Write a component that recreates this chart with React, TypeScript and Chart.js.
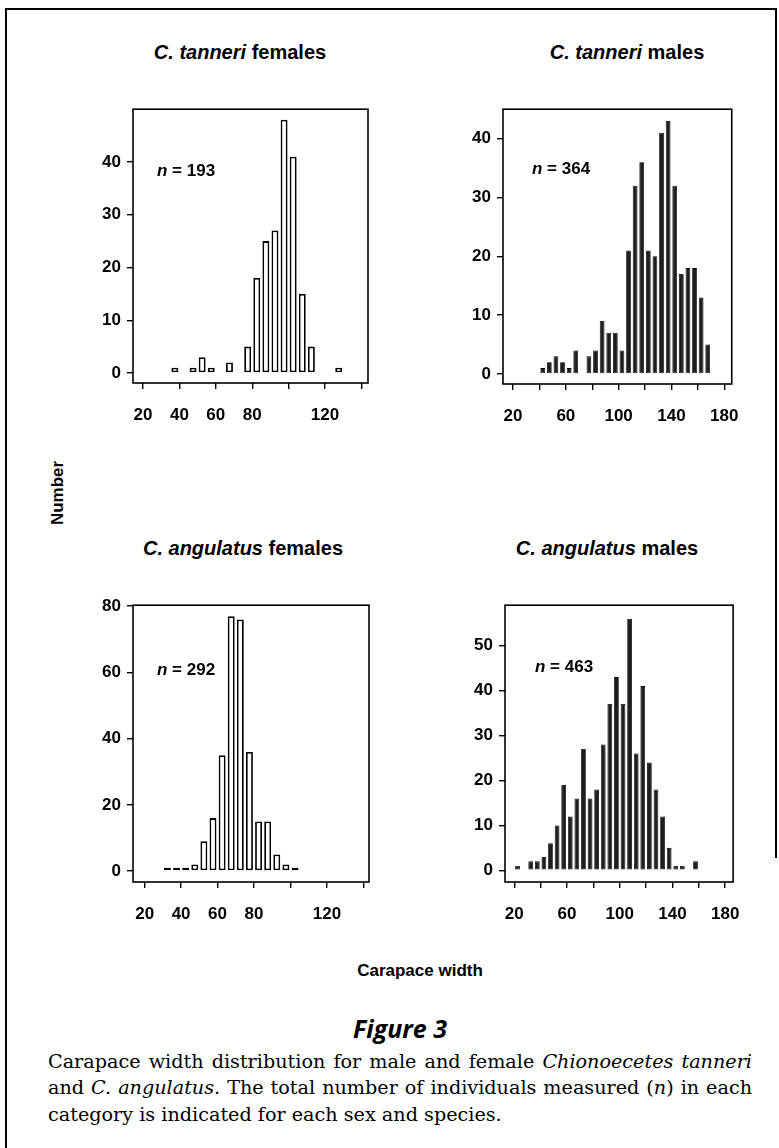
import React, { useEffect, useRef } from "react";
import { Chart, registerables } from "chart.js";

Chart.register(...registerables);

// ---------------- DATA ----------------
// bin centres (carapace width, mm) and counts
const tanneriFemaleBins = [37.5, 47.5, 52.5, 57.5, 67.5, 77.5, 82.5, 87.5, 92.5, 97.5, 102.5, 107.5, 112.5, 127.5];
const tanneriFemaleCounts = [1, 1, 3, 1, 2, 5, 18, 25, 27, 48, 41, 15, 5, 1];

const tanneriMaleBins = [42.5, 47.5, 52.5, 57.5, 62.5, 67.5, 77.5, 82.5, 87.5, 92.5, 97.5, 102.5, 107.5, 112.5, 117.5, 122.5, 127.5, 132.5, 137.5, 142.5, 147.5, 152.5, 157.5, 162.5, 167.5];
const tanneriMaleCounts = [1, 2, 3, 2, 1, 4, 3, 4, 9, 7, 7, 4, 21, 32, 36, 21, 20, 41, 43, 32, 17, 18, 18, 13, 5];

const angulatusFemaleBins = [32.5, 37.5, 42.5, 47.5, 52.5, 57.5, 62.5, 67.5, 72.5, 77.5, 82.5, 87.5, 92.5, 97.5, 102.5];
const angulatusFemaleCounts = [1, 1, 1, 2, 9, 16, 35, 77, 76, 36, 15, 15, 5, 2, 1];

const angulatusMaleBins = [22.5, 32.5, 37.5, 42.5, 47.5, 52.5, 57.5, 62.5, 67.5, 72.5, 77.5, 82.5, 87.5, 92.5, 97.5, 102.5, 107.5, 112.5, 117.5, 122.5, 127.5, 132.5, 137.5, 142.5, 147.5, 157.5];
const angulatusMaleCounts = [1, 2, 2, 3, 6, 10, 19, 12, 16, 27, 16, 18, 28, 37, 43, 37, 56, 26, 41, 24, 18, 12, 5, 1, 1, 2];

// tick values and which ones carry labels
const femaleXTicks = [20, 40, 60, 80, 100, 120, 140];
const femaleXLabels = [20, 40, 60, 80, 120];
const maleXTicks = [20, 40, 60, 80, 100, 120, 140, 160, 180];
const maleXLabels = [20, 60, 100, 140, 180];
const yTicks40 = [0, 10, 20, 30, 40];
const yTicks80 = [0, 20, 40, 60, 80];
const yTicks50 = [0, 10, 20, 30, 40, 50];

const sampleSizes = [193, 364, 292, 463];

// ---------------- STYLE ----------------
const SANS = '"Liberation Sans", Arial, Helvetica, sans-serif';
const AXIS_W = 50;
const AXIS_H = 45;
const PAD_T = 12;
const PAD_R = 18;

const framePlugin = {
  id: "frameBox",
  afterDatasetsDraw(chart: any) {
    const { ctx, chartArea } = chart;
    ctx.save();
    ctx.strokeStyle = "#000";
    ctx.lineWidth = 1.6;
    ctx.strokeRect(chartArea.left, chartArea.top, chartArea.right - chartArea.left, chartArea.bottom - chartArea.top);
    ctx.restore();
  },
};

type PanelProps = {
  bins: number[];
  counts: number[];
  xMin: number;
  xMax: number;
  yMin: number;
  yMax: number;
  xTicks: number[];
  xLabels: number[];
  yTicks: number[];
  filled: boolean;
  frame: { l: number; t: number; w: number; h: number };
};

function HistPanel(p: PanelProps) {
  const ref = useRef<HTMLCanvasElement>(null);
  const cw = AXIS_W + p.frame.w + PAD_R;
  const ch = PAD_T + p.frame.h + AXIS_H;
  useEffect(() => {
    const font = { family: SANS, size: 17, weight: "bold" as const };
    const chart = new Chart(ref.current as HTMLCanvasElement, {
      type: "bar",
      data: {
        datasets: [
          {
            data: p.bins.map((b, i) => ({ x: b, y: p.counts[i] })),
            backgroundColor: p.filled ? "#1e1e1e" : "#ffffff",
            borderColor: "#000",
            borderWidth: p.filled ? 0.8 : 1.8,
            borderSkipped: false,
            barPercentage: p.filled ? 0.72 : 0.76,
            categoryPercentage: 1,
          } as any,
        ],
      },
      options: {
        animation: false,
        responsive: false,
        maintainAspectRatio: false,
        layout: { padding: { top: PAD_T, right: PAD_R, left: 0, bottom: 0 } },
        plugins: { legend: { display: false }, tooltip: { enabled: false }, title: { display: false } },
        scales: {
          x: {
            type: "linear",
            min: p.xMin,
            max: p.xMax,
            offset: false,
            afterBuildTicks: (s: any) => {
              s.ticks = p.xTicks.map((v) => ({ value: v }));
            },
            afterFit: (s: any) => {
              s.height = AXIS_H;
            },
            ticks: {
              autoSkip: false,
              maxRotation: 0,
              padding: 16,
              color: "#000",
              font,
              callback: (v: any) => (p.xLabels.includes(Number(v)) ? String(v) : ""),
            },
            grid: { display: true, offset: false, drawOnChartArea: false, drawTicks: true, tickLength: 6, color: "#000", lineWidth: 1.4 },
            border: { display: false },
          },
          y: {
            type: "linear",
            min: p.yMin,
            max: p.yMax,
            afterBuildTicks: (s: any) => {
              s.ticks = p.yTicks.map((v) => ({ value: v }));
            },
            afterFit: (s: any) => {
              s.width = AXIS_W;
            },
            ticks: { padding: 6, color: "#000", font, callback: (v: any) => String(v) },
            grid: { display: true, drawOnChartArea: false, drawTicks: true, tickLength: 6, color: "#000", lineWidth: 1.4 },
            border: { display: false },
          },
        },
      } as any,
      plugins: [framePlugin],
    });
    return () => chart.destroy();
  }, []);
  return (
    <canvas
      ref={ref}
      width={cw}
      height={ch}
      style={{ position: "absolute", left: p.frame.l - AXIS_W, top: p.frame.t - PAD_T, width: cw, height: ch }}
    />
  );
}

function Txt(props: { x: number; y: number; style?: React.CSSProperties; children: React.ReactNode }) {
  return (
    <div
      style={{
        position: "absolute",
        left: props.x,
        top: props.y,
        transform: "translate(-50%, -50%)",
        whiteSpace: "nowrap",
        fontFamily: SANS,
        fontWeight: "bold",
        fontSize: 20,
        color: "#000",
        lineHeight: 1,
        ...props.style,
      }}
    >
      {props.children}
    </div>
  );
}

function NLabel(props: { x: number; y: number; n: number }) {
  return (
    <div
      style={{
        position: "absolute",
        left: props.x,
        top: props.y,
        transform: "translateY(-50%)",
        whiteSpace: "nowrap",
        fontFamily: SANS,
        fontWeight: "bold",
        fontSize: 17,
        lineHeight: 1,
      }}
    >
      <i>n</i> = {props.n}
    </div>
  );
}

const SERIF = '"DejaVu Serif", serif';
const capLine: React.CSSProperties = {
  position: "absolute",
  left: 48,
  width: 704,
  fontFamily: SERIF,
  fontSize: 19.2,
  lineHeight: 1,
  color: "#000",
  whiteSpace: "nowrap",
};

export default function App() {
  return (
    <div style={{ position: "absolute", left: 0, top: 0, width: 779, height: 1148, background: "#fff", overflow: "hidden" }}>
      {/* outer box */}
      <div style={{ position: "absolute", left: 5, top: 8, width: 2, height: 1140, background: "#000" }} />
      <div style={{ position: "absolute", left: 5, top: 8, width: 771, height: 1.5, background: "#000" }} />
      <div style={{ position: "absolute", left: 775, top: 8, width: 1.5, height: 850, background: "#000" }} />

      <HistPanel bins={tanneriFemaleBins} counts={tanneriFemaleCounts} xMin={14.5} xMax={143.6} yMin={-1.9} yMax={50}
        xTicks={femaleXTicks} xLabels={femaleXLabels} yTicks={yTicks40} filled={false} frame={{ l: 133, t: 105, w: 235, h: 278 }} />
      <HistPanel bins={tanneriMaleBins} counts={tanneriMaleCounts} xMin={12.4} xMax={185.7} yMin={-1.7} yMax={45}
        xTicks={maleXTicks} xLabels={maleXLabels} yTicks={yTicks40} filled={true} frame={{ l: 503, t: 105, w: 234, h: 279 }} />
      <HistPanel bins={angulatusFemaleBins} counts={angulatusFemaleCounts} xMin={13.6} xMax={143.1} yMin={-3.3} yMax={80.3}
        xTicks={femaleXTicks} xLabels={femaleXLabels} yTicks={yTicks80} filled={false} frame={{ l: 133, t: 601, w: 236, h: 281 }} />
      <HistPanel bins={angulatusMaleBins} counts={angulatusMaleCounts} xMin={13} xMax={186} yMin={-2.6} yMax={59}
        xTicks={maleXTicks} xLabels={maleXLabels} yTicks={yTicks50} filled={true} frame={{ l: 505, t: 601, w: 233, h: 281 }} />

      <Txt x={240} y={52}><i>C. tanneri</i> females</Txt>
      <Txt x={627} y={52}><i>C. tanneri</i> males</Txt>
      <Txt x={243} y={548}><i>C. angulatus</i> females</Txt>
      <Txt x={607} y={548}><i>C. angulatus</i> males</Txt>

      <NLabel x={157} y={170} n={sampleSizes[0]} />
      <NLabel x={532} y={168} n={sampleSizes[1]} />
      <NLabel x={157} y={669} n={sampleSizes[2]} />
      <NLabel x={535} y={666} n={sampleSizes[3]} />

      <Txt x={57} y={493} style={{ transform: "translate(-50%, -50%) rotate(-90deg)", fontSize: 17 }}>Number</Txt>
      <Txt x={420} y={970} style={{ fontSize: 17 }}>Carapace width</Txt>

      <Txt x={400} y={1028} style={{ fontFamily: '"Open Sans", sans-serif', fontStyle: "italic", fontWeight: 700, fontSize: 25 }}>Figure 3</Txt>

      <div style={{ ...capLine, top: 1052.4, textAlign: "justify", textAlignLast: "justify" }}>
        Carapace width distribution for male and female <i>Chionoecetes tanneri</i>
      </div>
      <div style={{ ...capLine, top: 1078.4, textAlign: "justify", textAlignLast: "justify" }}>
        and <i>C. angulatus</i>. The total number of individuals measured (<i>n</i>) in each
      </div>
      <div style={{ ...capLine, top: 1105.4 }}>category is indicated for each sex and species.</div>
    </div>
  );
}
